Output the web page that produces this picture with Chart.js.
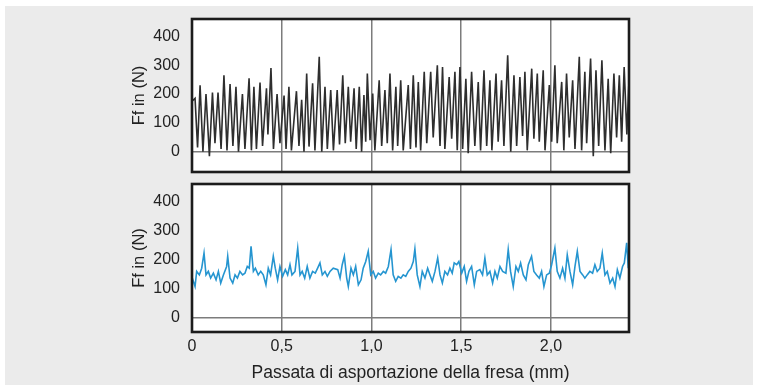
<!DOCTYPE html>
<html>
<head>
<meta charset="utf-8">
<script src="https://cdn.jsdelivr.net/npm/chart.js@4/dist/chart.umd.min.js"></script>
<style>
  html, body { margin: 0; padding: 0; background: #fff; }
  #wrap { position: relative; width: 758px; height: 385px; overflow: hidden; }
  #bg { position: absolute; left: 5px; top: 6px; width: 748px; height: 379px; background: #ebebeb; }
  canvas { position: absolute; left: 0; }
  #topChart { top: 0; width: 758px; height: 180px; }
  #bottomChart { top: 180px; width: 758px; height: 205px; }
</style>
</head>
<body>
<div id="wrap">
  <div id="bg"></div>
  <canvas id="topChart" width="758" height="180"></canvas>
  <canvas id="bottomChart" width="758" height="205"></canvas>
</div>
<script>
// tick values / labels
var xTickValues = [0, 0.5, 1, 1.5, 2];
var xTickLabels = ['0', '0,5', '1,0', '1,5', '2,0'];
var yTickValues = [0, 100, 200, 300, 400];

// top panel (black trace) - position in mm, force in N
var topX = [
  0,0.017,0.031,0.045,0.061,0.078,0.097,0.114,0.128,0.145,
  0.162,0.178,0.195,0.212,0.228,0.245,0.259,0.281,0.295,0.318,
  0.331,0.345,0.359,0.379,0.393,0.415,0.423,0.440,0.454,0.474,
  0.490,0.513,0.524,0.540,0.554,0.582,0.596,0.611,0.624,0.639,
  0.652,0.672,0.685,0.709,0.723,0.741,0.754,0.773,0.788,0.809,
  0.822,0.840,0.854,0.871,0.884,0.903,0.915,0.932,0.945,0.958,
  0.968,0.977,0.992,1.007,1.019,1.043,1.057,1.075,1.088,1.103,
  1.118,1.136,1.146,1.163,1.177,1.205,1.217,1.233,1.248,1.261,
  1.274,1.294,1.308,1.330,1.344,1.367,1.382,1.396,1.409,1.433,
  1.447,1.465,1.478,1.493,1.508,1.526,1.539,1.558,1.576,1.595,
  1.608,1.627,1.642,1.660,1.671,1.694,1.706,1.725,1.738,1.759,
  1.776,1.794,1.809,1.827,1.842,1.855,1.868,1.893,1.905,1.924,
  1.935,1.957,1.967,1.991,2.004,2.022,2.035,2.060,2.072,2.087,
  2.102,2.121,2.134,2.158,2.171,2.189,2.199,2.221,2.236,2.251,
  2.266,2.284,2.301,2.319,2.333,2.351,2.366,2.381,2.394,2.408,
  2.423,2.435
];
var topY = [
  175,185,15,230,0,200,-15,205,30,205,
  10,265,5,235,20,225,0,200,10,255,
  5,225,10,240,20,220,60,290,10,200,
  30,195,10,225,5,210,20,180,0,271,
  18,237,5,329,0,225,10,214,5,214,
  25,265,30,225,35,220,10,225,0,197,
  35,271,40,202,5,248,20,214,30,271,
  5,225,20,248,5,231,10,265,15,242,
  5,277,30,277,50,300,20,294,10,259,
  45,277,5,294,10,253,-5,277,20,242,
  5,282,20,248,5,271,35,248,20,334,
  0,265,20,259,55,277,5,288,45,271,
  35,282,5,231,35,300,30,242,5,271,
  50,248,10,329,5,277,30,323,-15,282,
  20,317,5,253,-5,271,50,265,35,294,
  60,250
];

// bottom panel (blue trace)
var bottomX = [
  0.000,0.017,0.026,0.041,0.054,0.067,0.078,0.091,0.104,0.119,
  0.134,0.147,0.160,0.175,0.193,0.199,0.212,0.227,0.240,0.253,
  0.267,0.282,0.295,0.308,0.319,0.329,0.342,0.353,0.369,0.383,
  0.397,0.412,0.425,0.438,0.453,0.464,0.477,0.490,0.505,0.520,
  0.533,0.546,0.557,0.574,0.589,0.602,0.614,0.628,0.642,0.657,
  0.672,0.687,0.700,0.713,0.726,0.741,0.754,0.769,0.787,
  0.812,0.825,0.837,0.849,0.862,0.871,0.886,0.899,0.912,0.927,
  0.942,0.954,0.968,0.982,0.996,1.010,1.023,1.038,1.051,1.066,
  1.079,1.094,1.109,1.121,1.135,1.149,1.164,1.177,1.191,1.205,
  1.220,1.233,1.242,1.255,1.270,1.283,1.298,1.313,1.326,1.339,
  1.354,1.369,1.382,1.395,1.409,1.424,1.437,1.450,1.461,1.475,
  1.487,1.503,1.517,1.530,1.543,1.558,1.573,1.586,
  1.604,1.619,1.632,1.645,1.660,1.675,1.688,1.701,1.716,1.731,
  1.749,1.762,1.775,1.790,1.805,1.818,1.831,1.846,1.861,1.874,
  1.892,1.905,1.920,1.935,1.948,1.961,1.976,1.991,2.004,2.022,
  2.035,2.050,2.065,2.078,2.091,2.106,2.121,2.134,2.147,2.162,
  2.177,2.189,2.202,2.217,2.232,2.245,2.258,2.273,2.286,2.301,
  2.314,2.329,2.344,2.357,2.370,2.384,2.399,2.409,2.422,2.431
];
var bottomY = [
  140,108,160,148,171,223,148,160,137,154,
  131,160,120,148,177,212,137,120,148,137,
  160,148,154,177,171,246,160,171,148,160,
  148,114,171,148,212,171,131,177,143,166,
  148,183,148,160,240,148,160,137,177,137,
  160,154,171,189,148,160,143,160,171,
  166,137,183,212,137,108,171,148,177,114,
  131,171,194,229,148,160,137,154,148,160,
  154,177,235,148,126,143,137,148,143,160,
  171,194,237,148,108,160,137,171,148,126,
  160,206,148,120,160,148,171,154,189,183,
  194,154,177,126,160,177,114,160,
  166,148,206,148,160,120,160,137,177,160,
  154,235,160,108,177,160,189,148,131,183,
  212,160,148,137,160,108,148,154,183,240,
  160,137,171,137,217,160,114,177,229,160,
  148,137,148,160,154,183,160,171,223,148,
  160,120,137,108,166,137,177,189,258,171
];

var FONT = "'Liberation Sans', Arial, Helvetica, sans-serif";
var TEXT = '#222';
var GRID = '#7c7c7c';

// white plot area + thick black frame
var framePlugin = {
  id: 'frame',
  beforeDraw: function(chart) {
    var a = chart.chartArea, c = chart.ctx;
    c.save();
    c.fillStyle = '#fff';
    c.fillRect(a.left, a.top, a.right - a.left, a.bottom - a.top);
    c.restore();
  },
  afterDraw: function(chart) {
    var a = chart.chartArea, c = chart.ctx;
    c.save();
    c.strokeStyle = '#1c1c1c';
    c.lineWidth = 2.6;
    c.strokeRect(a.left, a.top, a.right - a.left, a.bottom - a.top);
    c.restore();
  }
};

function toPoints(xs, ys) {
  return xs.map(function(x, i) { return { x: x, y: ys[i] }; });
}

function makePanel(id, xs, ys, color, lw, yMin, padTop, xHeight, showX) {
  return new Chart(document.getElementById(id), {
    type: 'line',
    data: {
      datasets: [{
        data: toPoints(xs, ys),
        borderColor: color,
        borderWidth: lw,
        pointRadius: 0,
        tension: 0,
        fill: false
      }]
    },
    options: {
      responsive: false,
      animation: false,
      devicePixelRatio: 1,
      layout: { padding: { left: 130, right: 129, top: padTop, bottom: 0 } },
      plugins: { legend: { display: false }, tooltip: { enabled: false } },
      scales: {
        x: {
          type: 'linear',
          min: 0,
          max: 2.435,
          afterBuildTicks: function(s) { s.ticks = xTickValues.map(function(v) { return { value: v }; }); },
          afterFit: function(s) { s.height = xHeight; s.paddingLeft = 0; s.paddingRight = 0; },
          border: { display: false },
          grid: { drawTicks: false, color: GRID, lineWidth: 1.5 },
          ticks: {
            display: showX,
            padding: 5,
            color: TEXT,
            font: { family: FONT, size: 16 },
            callback: function(v) { return xTickLabels[xTickValues.indexOf(v)]; }
          },
          title: {
            display: showX,
            text: 'Passata di asportazione della fresa (mm)',
            color: TEXT,
            font: { family: FONT, size: 17.5 },
            padding: { top: 0, bottom: 1 }
          }
        },
        y: {
          min: yMin,
          max: 460,
          afterBuildTicks: function(s) { s.ticks = yTickValues.map(function(v) { return { value: v }; }); },
          afterFit: function(s) { s.width = 62; s.paddingTop = 0; s.paddingBottom = 0; },
          border: { display: false },
          grid: {
            drawTicks: false,
            lineWidth: 1.5,
            color: function(ctx) { return ctx.tick && ctx.tick.value === 0 ? GRID : 'rgba(0,0,0,0)'; }
          },
          ticks: { padding: 12, color: TEXT, font: { family: FONT, size: 16 } },
          title: {
            display: true,
            text: 'Ff in (N)',
            color: TEXT,
            font: { family: FONT, size: 16.5 },
            padding: 0
          }
        }
      }
    },
    plugins: [framePlugin]
  });
}

var topChart = makePanel('topChart', topX, topY, '#2e2e2e', 1.6, -70, 19, 8, false);
var bottomChart = makePanel('bottomChart', bottomX, bottomY, '#2595d0', 1.6, -48, 4, 53, true);
</script>
</body>
</html>
